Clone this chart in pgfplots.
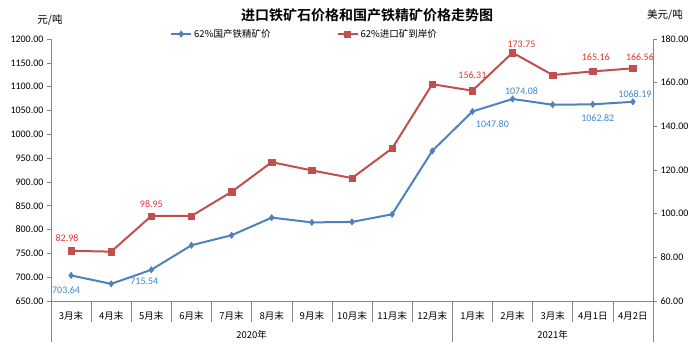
\documentclass[border=0pt]{standalone}
\usepackage{pgfplots}
\pgfplotsset{compat=1.18}
\usepackage{pgfplotstable}
\usepackage{fontspec}
\setmainfont{Carlito}
\newfontfamily\cjk{Noto Sans CJK SC}[BoldFont={Noto Sans CJK SC Bold}]
\definecolor{bl}{HTML}{4F81BD}
\definecolor{rd}{HTML}{C0504D}
\definecolor{bltxt}{HTML}{3A87CF}
\definecolor{rdtxt}{HTML}{E8302E}
\definecolor{ax}{HTML}{868686}

\pgfplotstableread{
x y
1 703.64
2 686
3 715.54
4 767
5 788
6 825
7 815
8 816
9 832
10 965
11 1047.80
12 1074.08
13 1062
14 1062.82
15 1068.19
}\bluedata

\pgfplotstableread{
x y
1 82.98
2 82.6
3 98.95
4 98.95
5 110.0
6 123.6
7 119.8
8 116.3
9 129.9
10 159.3
11 156.31
12 173.75
13 163.5
14 165.16
15 166.56
}\reddata

\pgfplotstableread{
x y dx dy lab
1 703.64 -5 -15 703.64
3 715.54 -7 -12 715.54
11 1047.80 20 -13 1047.80
12 1074.08 9 8 1074.08
14 1062.82 5 -14 1062.82
15 1068.19 2 8 1068.19
}\bluelab

\pgfplotstableread{
x y dx dy lab
1 82.98 -4 13 82.98
3 98.95 0 12 98.95
11 156.31 0 16 156.31
12 173.75 9 8 173.75
14 165.16 3 14 165.16
15 166.56 7 11 166.56
}\redlab

\begin{document}
\begin{tikzpicture}
\path[use as bounding box] (0pt,0pt) rectangle (698pt,352pt);

\pgfplotsset{
  common/.style={
    at={(51pt,51pt)}, anchor=south west, scale only axis,
    width=602pt, height=262pt,
    xmin=0.5, xmax=15.5, clip=false,
    axis line style={draw=ax, line width=0.6pt, -},
    tick align=outside, major tick length=4pt,
    y tick style={draw=ax, line width=0.6pt},
    /pgf/number format/assume math mode=true,
    yticklabel style={font=\fontsize{10}{12}\selectfont,
      /pgf/number format/fixed, /pgf/number format/fixed zerofill,
      /pgf/number format/precision=2, /pgf/number format/1000 sep={}},
  },
  lab/.style={
    draw=none, mark=none, forget plot,
    nodes near coords, point meta=explicit symbolic,
    visualization depends on={\thisrow{dx} \as \dx},
    visualization depends on={\thisrow{dy} \as \dy},
    nodes near coords style={anchor=center, xshift=\dx pt, yshift=\dy pt,
      font=\fontsize{10}{12}\selectfont, inner sep=0pt},
  },
}

\begin{axis}[common,
  ymin=650, ymax=1200, ytick={650,700,...,1200},
  axis y line*=left, axis x line*=bottom,
  xtick={1,...,15},
  xticklabels={3月末,4月末,5月末,6月末,7月末,8月末,9月末,10月末,11月末,12月末,1月末,2月末,3月末,4月1日,4月2日},
  x tick style={draw=none},
  xticklabel style={font=\cjk\fontsize{9.5}{11}\selectfont, yshift=-3pt},
  legend columns=2,
  legend style={draw=none, fill=none, inner sep=0pt, at={(0.1977,1.019)}, anchor=west,
    font=\cjk\fontsize{9.5}{11}\selectfont,
    /tikz/every even column/.append style={column sep=64pt}},
  legend image code/.code={\draw[mark repeat=2,mark phase=2,#1] plot coordinates {(0pt,0pt) (10pt,0pt) (20pt,0pt)};},
]
\addplot[bl, line width=2pt, mark=diamond*, mark size=3.2pt, mark options={fill=bl, draw=bl, line width=0.5pt}] table[x=x,y=y] {\bluedata};
\addlegendentry{62\%国产铁精矿价}
\addlegendimage{rd, line width=2pt, mark=square*, mark size=3.2pt, mark options={fill=rd, draw=rd, line width=0.5pt}}
\addlegendentry{62\%进口矿到岸价}
\addplot[lab, nodes near coords style={text=bltxt}] table[x=x,y=y,meta=lab] {\bluelab};

\pgfplotsinvokeforeach{1.5,2.5,3.5,4.5,5.5,6.5,7.5,8.5,9.5,11.5,12.5,13.5,14.5}{
  \draw[ax, line width=0.6pt] (axis cs:#1,650) -- ++(0pt,-21pt);
}
\pgfplotsinvokeforeach{0.5,10.5,15.5}{
  \draw[ax, line width=0.6pt] (axis cs:#1,650) -- ++(0pt,-41pt);
}
\node[font=\cjk\fontsize{9.5}{11}\selectfont, yshift=-34pt] at (axis cs:5.5,650) {2020年};
\node[font=\cjk\fontsize{9.5}{11}\selectfont, yshift=-34pt] at (axis cs:13,650) {2021年};
\end{axis}

\begin{axis}[common,
  ymin=60, ymax=180, ytick={60,80,...,180},
  axis y line*=right, axis x line=none,
]
\addplot[rd, line width=2pt, mark=square*, mark size=3.2pt, mark options={fill=rd, draw=rd, line width=0.5pt}] table[x=x,y=y] {\reddata};
\addplot[lab, nodes near coords style={text=rdtxt}] table[x=x,y=y,meta=lab] {\redlab};
\end{axis}

\node[font=\cjk\bfseries\fontsize{14}{16}\selectfont] at (367pt,337pt) {进口铁矿石价格和国产铁精矿价格走势图};
\node[font=\cjk\fontsize{10.5}{12}\selectfont] at (50pt,332pt) {元/吨};
\node[font=\cjk\fontsize{10.5}{12}\selectfont] at (665pt,337pt) {美元/吨};
\end{tikzpicture}
\end{document}
